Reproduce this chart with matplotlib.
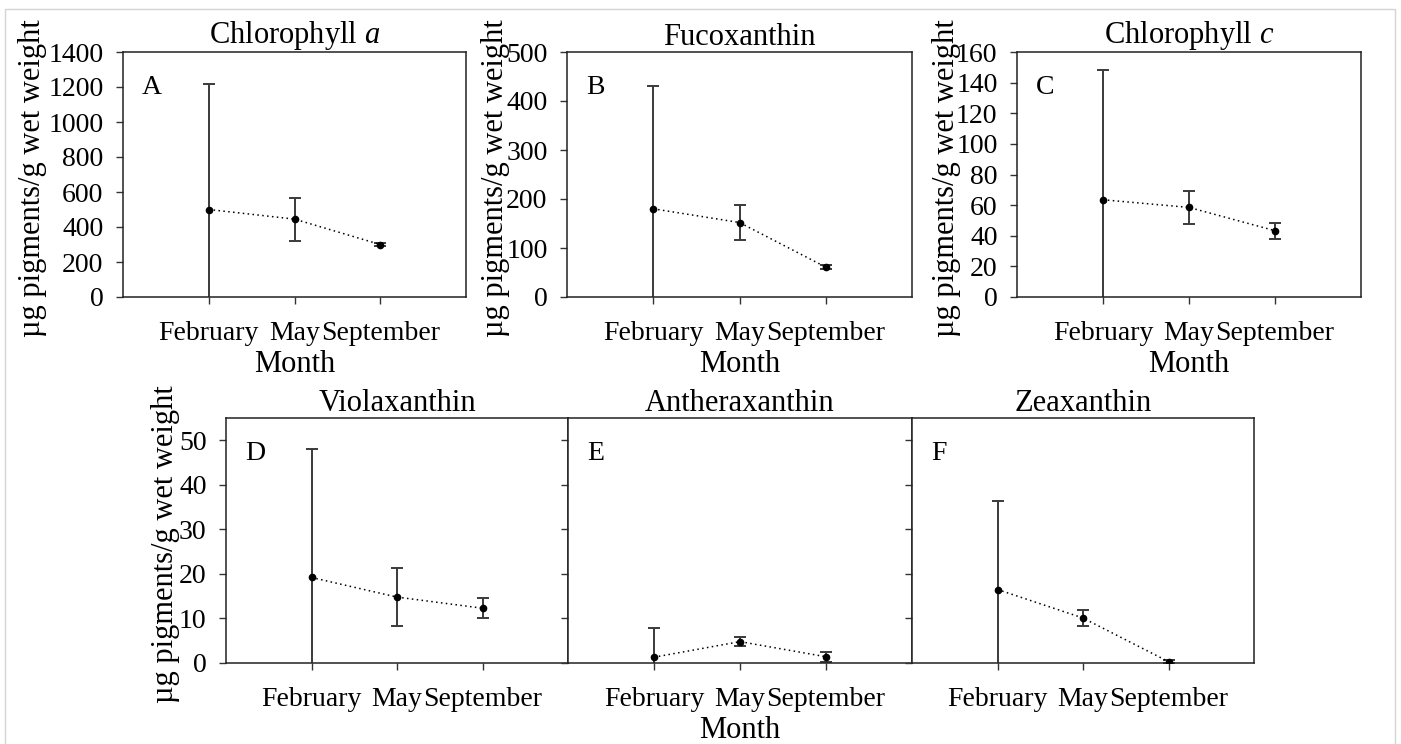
import matplotlib
import numpy as np

matplotlib.use("Agg")
import matplotlib.pyplot as plt
from matplotlib.patches import Rectangle

plt.rcParams["font.family"] = ["Liberation Serif", "DejaVu Serif"]
plt.rcParams["mathtext.fontset"] = "custom"
plt.rcParams["mathtext.it"] = "Liberation Serif:italic"
plt.rcParams["mathtext.rm"] = "Liberation Serif"

months = ["February", "May", "September"]

chl_a_mean = [500, 445, 300]
chl_a_sd = [720, 123, 10]
fuco_mean = [180, 152, 61]
fuco_sd = [250, 36, 4]
chl_c_mean = [63.5, 58.5, 43.3]
chl_c_sd = [85, 11, 5.3]
viola_mean = [19.2, 14.8, 12.3]
viola_sd = [28.8, 6.5, 2.2]
anthera_mean = [1.3, 4.8, 1.4]
anthera_sd = [6.5, 1.0, 1.1]
zea_mean = [16.5, 10.1, 0.3]
zea_sd = [19.9, 1.7, 0.3]

titles = [r"Chlorophyll $\mathit{a}$", "Fucoxanthin", r"Chlorophyll $\mathit{c}$",
          "Violaxanthin", "Antheraxanthin", "Zeaxanthin"]
letters = ["A", "B", "C", "D", "E", "F"]

W, H = 1401, 744
FS = 20
TITLE_FS = 22
LABEL_FS = 22


def px_axes(fig, x0, y0, x1, y1):
    return fig.add_axes([x0 / W, 1 - y1 / H, (x1 - x0) / W, (y1 - y0) / H])


def draw_panel(ax, mean, sd, ylim, yticks, title, letter, show_yticks=True):
    x = np.arange(1, len(months) + 1)
    ax.errorbar(x, mean, yerr=sd, fmt="none", ecolor="#3a3a3a", elinewidth=1.4,
                capsize=4, capthick=1.4, zorder=2)
    ax.plot(x, mean, linestyle=(0, (1, 2.2)), color="black", linewidth=1.1,
            marker="o", markersize=4.5, markerfacecolor="black", zorder=3)
    ax.set_xlim(0, 4)
    ax.set_ylim(*ylim)
    ax.set_xticks(x)
    ax.set_xticklabels(months, fontsize=FS)
    ax.set_yticks(yticks)
    if show_yticks:
        ax.set_yticklabels([str(t) for t in yticks], fontsize=FS)
    else:
        ax.set_yticklabels([])
    ax.tick_params(axis="both", direction="out", length=5, width=1, color="#333333")
    ax.tick_params(axis="x", pad=12)
    ax.tick_params(axis="y", pad=9)
    for spine in ax.spines.values():
        spine.set_linewidth(1.1)
        spine.set_color("#222222")
    ax.set_title(title, fontsize=TITLE_FS, pad=5)
    ax.text(0.055, 0.855, letter, transform=ax.transAxes, fontsize=FS, va="center", ha="left")


fig = plt.figure(figsize=(W / 100, H / 100), dpi=100)
fig.patches.append(Rectangle((5 / W, -0.1), (1395 - 5) / W, 1.1 - 9 / H, transform=fig.transFigure,
                             fill=False, edgecolor="#d4d4d4", linewidth=1.0))

ylabel = "µg pigments/g wet weight"

ax_a = px_axes(fig, 123, 52, 466, 297)
draw_panel(ax_a, chl_a_mean, chl_a_sd, (0, 1400), list(range(0, 1401, 200)), titles[0], letters[0])
ax_b = px_axes(fig, 567, 52, 912, 297)
draw_panel(ax_b, fuco_mean, fuco_sd, (0, 500), list(range(0, 501, 100)), titles[1], letters[1])
ax_c = px_axes(fig, 1017, 52, 1361, 297)
draw_panel(ax_c, chl_c_mean, chl_c_sd, (0, 160), list(range(0, 161, 20)), titles[2], letters[2])

ax_d = px_axes(fig, 226, 418, 568, 663)
draw_panel(ax_d, viola_mean, viola_sd, (0, 55), list(range(0, 51, 10)), titles[3], letters[3])
ax_e = px_axes(fig, 568, 418, 912, 663)
draw_panel(ax_e, anthera_mean, anthera_sd, (0, 55), list(range(0, 51, 10)), titles[4], letters[4],
           show_yticks=False)
ax_f = px_axes(fig, 912, 418, 1254, 663)
draw_panel(ax_f, zea_mean, zea_sd, (0, 55), list(range(0, 51, 10)), titles[5], letters[5],
           show_yticks=False)

# y labels at fixed horizontal positions, tucked in against the tick labels
for ax, xpix in [(ax_a, 33), (ax_b, 496), (ax_c, 947), (ax_d, 165)]:
    pos = ax.get_position()
    fig.text(xpix / W, (pos.y0 + pos.y1) / 2 - 0.005, ylabel, rotation=90,
             ha="center", va="center", fontsize=LABEL_FS)

for ax in [ax_a, ax_b, ax_c, ax_e]:
    ax.set_xlabel("Month", fontsize=TITLE_FS, labelpad=3)

fig.savefig("out.png", dpi=100)
